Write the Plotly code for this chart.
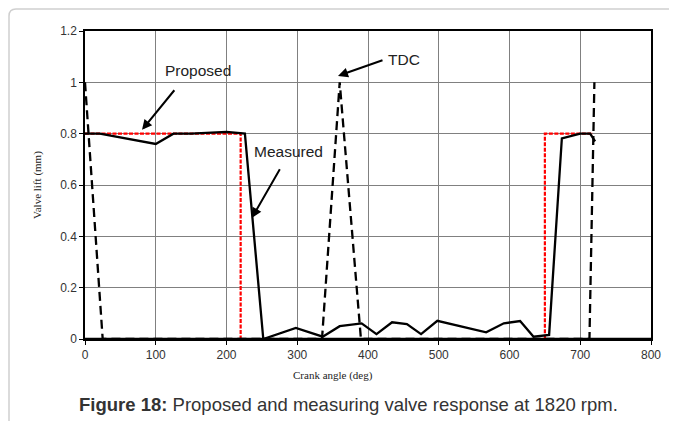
import plotly.graph_objects as go

# Data
proposed_x = [0, 220, 220, 650, 650, 718]
proposed_y = [0.8, 0.8, 0, 0, 0.8, 0.8]

measured_x = [0, 21, 100, 125, 150, 200, 226, 252, 298, 336, 360, 391, 412, 434, 455,
              475, 498, 567, 592, 615, 634, 656, 674, 700, 714, 721]
measured_y = [0.8, 0.8, 0.76, 0.8, 0.8, 0.807, 0.8, 0, 0.043, 0.009, 0.05, 0.061, 0.019,
              0.065, 0.058, 0.019, 0.071, 0.026, 0.061, 0.07, 0.009, 0.016, 0.782, 0.8, 0.8, 0.77]

tdc_x = [0, 25, 335, 360, 390, 713, 720]
tdc_y = [1, 0, 0, 1, 0, 0, 1]

x_ticks = [0, 100, 200, 300, 400, 500, 600, 700, 800]
y_ticks = [0, 0.2, 0.4, 0.6, 0.8, 1.0, 1.2]
y_tick_labels = ["0", "0.2", "0.4", "0.6", "0.8", "1", "1.2"]

fig = go.Figure()
fig.add_trace(go.Scatter(x=proposed_x, y=proposed_y, mode="lines",
                         line=dict(color="#ff0000", width=2.2, dash="4px,1.5px"),
                         showlegend=False))
fig.add_trace(go.Scatter(x=tdc_x, y=tdc_y, mode="lines",
                         line=dict(color="black", width=2.3, dash="9px,5px"),
                         showlegend=False))
fig.add_trace(go.Scatter(x=measured_x, y=measured_y, mode="lines",
                         line=dict(color="black", width=2.3),
                         showlegend=False))

axis_font = dict(family="Liberation Sans, Arial", size=12, color="#333")
title_font = dict(family="Liberation Serif, Times New Roman", size=11, color="#222")

fig.update_xaxes(range=[0, 800], tickvals=x_ticks, showgrid=True, gridcolor="#808080",
                 gridwidth=1.4, zeroline=False, showline=True, linecolor="black",
                 linewidth=1.5, mirror=True, ticks="outside", ticklen=4, tickcolor="black",
                 tickfont=axis_font, automargin=False)
fig.update_yaxes(range=[0, 1.2], tickvals=y_ticks, ticktext=y_tick_labels, showgrid=True,
                 gridcolor="#808080", gridwidth=1.4, zeroline=False, showline=True,
                 linecolor="black", linewidth=1.5, mirror=True, ticks="outside", ticklen=4,
                 tickcolor="black", tickfont=axis_font, automargin=False)

# page has an 8px body margin; figure is placed at (8, 8)
OFF = 8
W, H = 677 - OFF, 421 - OFF
L, T, PW, PH = 85 - OFF, 31 - OFF, 566, 308


def px_to_paper(px, py):
    return (px - OFF - L) / PW, (T + PH - (py - OFF)) / PH


ann_font = dict(family="Liberation Sans, Arial", size=15.5, color="#222")
annotations = [
    dict(x=80.6, y=0.815, ax=128, ay=0.975, xref="x", yref="y", axref="x", ayref="y",
         showarrow=True, arrowhead=2, arrowsize=1, arrowwidth=2, arrowcolor="black", text=""),
    dict(x=160, y=1.045, xref="x", yref="y", text="Proposed", showarrow=False, font=ann_font),
    dict(x=236, y=0.472, ax=276.6, ay=0.667, xref="x", yref="y", axref="x", ayref="y",
         showarrow=True, arrowhead=2, arrowsize=1, arrowwidth=2, arrowcolor="black", text=""),
    dict(x=288, y=0.729, xref="x", yref="y", text="Measured", showarrow=False, font=ann_font),
    dict(x=357.6, y=1.025, ax=422.6, ay=1.088, xref="x", yref="y", axref="x", ayref="y",
         showarrow=True, arrowhead=2, arrowsize=1, arrowwidth=2, arrowcolor="black", text=""),
    dict(x=451, y=1.088, xref="x", yref="y", text="TDC", showarrow=False, font=ann_font),
]

cx, cy = px_to_paper(333, 375)
annotations.append(dict(x=cx, y=cy, xref="paper", yref="paper", text="Crank angle (deg)",
                        showarrow=False, font=title_font, xanchor="center", yanchor="middle"))
vx, vy = px_to_paper(37, 185)
annotations.append(dict(x=vx, y=vy, xref="paper", yref="paper", text="Valve lift (mm)",
                        showarrow=False, font=title_font, textangle=-90,
                        xanchor="center", yanchor="middle"))
fx, fy = px_to_paper(348, 405)
annotations.append(dict(
    x=fx, y=fy, xref="paper", yref="paper",
    text="<b>Figure 18:</b> Proposed and measuring valve response at 1820 rpm.",
    showarrow=False, font=dict(family="Liberation Sans, Arial", size=18.5, color="#333"),
    xanchor="center", yanchor="middle"))

# rounded outer frame (top-left corner)
lx, ty = px_to_paper(9, 9)
rx = 7 / PW
ry = 7 / PH
frame_path = f"M {lx},-0.4 L {lx},{ty - ry} Q {lx},{ty} {lx + rx},{ty} L 1.2,{ty}"

fig.update_layout(
    width=W, height=H,
    margin=dict(l=L, r=W - L - PW, t=T, b=H - T - PH, autoexpand=False),
    paper_bgcolor="white", plot_bgcolor="white",
    annotations=annotations,
    shapes=[
        dict(type="path", path=frame_path, xref="paper", yref="paper",
             line=dict(color="#cfcfcf", width=1.5), layer="below"),
        # heavy baseline along the x axis, as in the reference
        dict(type="line", xref="paper", yref="paper", x0=0, x1=1, y0=0, y1=0,
             line=dict(color="black", width=2.6), layer="above"),
    ],
)

fig.write_html("out.html")
